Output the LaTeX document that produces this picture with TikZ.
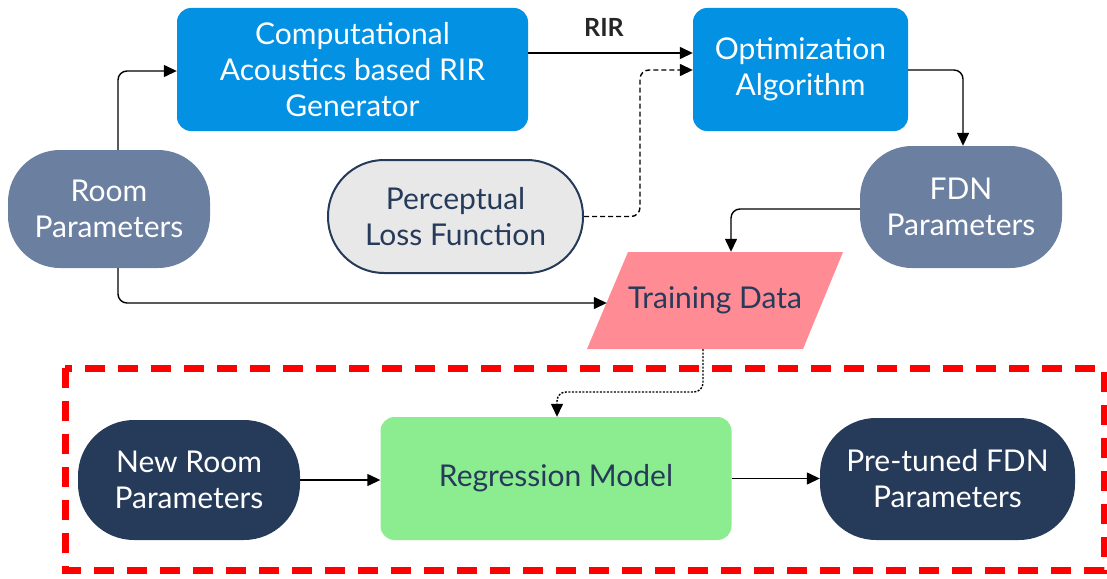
\documentclass[tikz,border=0pt]{standalone}
\usepackage{fontspec}
\setmainfont{Lato}
\usetikzlibrary{arrows.meta}
\definecolor{cblue}{RGB}{3,145,228}
\definecolor{cslate}{RGB}{107,127,161}
\definecolor{cgray}{RGB}{232,232,232}
\definecolor{cnavy}{RGB}{38,58,90}
\definecolor{cpink}{RGB}{255,139,148}
\definecolor{cgreen}{RGB}{140,236,144}
\definecolor{cred}{RGB}{255,0,0}
\begin{document}
\begin{tikzpicture}[x=1pt,y=-1pt,
  every node/.style={font=\fontsize{30}{36}\selectfont, align=center, inner sep=0pt},
  bluebox/.style={fill=cblue, text=white, rounded corners=14pt},
  slatepill/.style={fill=cslate, text=white, rounded corners=52pt},
  navypill/.style={fill=cnavy, text=white, rounded corners=56pt},
  conn/.style={draw=black, line width=1.4pt, rounded corners=9pt, -{Triangle[length=13pt,width=12pt]}},
  dashconn/.style={conn, dash pattern=on 5pt off 3pt},
  dotconn/.style={conn, dash pattern=on 2pt off 1.5pt}]
\useasboundingbox (0,0) rectangle (1107,578);
% top row
\node[bluebox, minimum width=351pt, minimum height=123pt] (comp) at (352.5,69.5) {Computational\\Acoustics based RIR\\Generator};
\node[bluebox, minimum width=215pt, minimum height=123pt] (opt) at (800.5,69.5) {Optimization\\Algorithm};
\node[font=\fontsize{25}{28}\selectfont\bfseries, text=black!85] (rir) at (604,27) {RIR};
% middle row
\node[slatepill, minimum width=202pt, minimum height=118pt] (room) at (109,209) {Room\\Parameters};
\node[fill=cgray, draw=cnavy, line width=2pt, rounded corners=56pt, minimum width=255pt, minimum height=113pt, text=cnavy] (loss) at (455.5,216.5) {Perceptual\\Loss Function};
\node[slatepill, minimum width=202pt, minimum height=122pt] (fdn) at (961,207) {FDN\\Parameters};
\fill[cpink] (628,252) -- (843,252) -- (803,349) -- (587,349) -- cycle;
\node[minimum width=216pt, minimum height=97pt, text=cnavy] (td) at (715,300.5) {Training Data};
% bottom frame
\draw[cred, line width=7pt, dash pattern=on 20pt off 13pt] (65,368) rectangle (1104,570);
\node[fill=cgreen, rounded corners=14pt, minimum width=351pt, minimum height=123pt, text=cnavy] (reg) at (556,478.5) {Regression Model};
\node[navypill, minimum width=222pt, minimum height=120pt] (newroom) at (189,480) {New Room\\Parameters};
\node[navypill, minimum width=255pt, minimum height=122pt] (pre) at (947.5,479) {Pre-tuned FDN\\Parameters};
% connectors
\coordinate (c1) at (118,71);
\draw[conn] (room.north -| c1) |- (comp.west |- c1);
\draw[conn] (comp.east |- 0,53) -- (opt.west |- 0,53);
\coordinate (c2) at (640,70);
\draw[dashconn] (loss.east) -| (c2) -- (opt.west |- c2);
\coordinate (c3) at (963,70);
\draw[conn] (opt.east |- c3) -| (fdn.north -| c3);
\coordinate (c4) at (731,209);
\draw[conn] (fdn.west |- c4) -| (td.north -| c4);
\coordinate (c5) at (118,303);
\draw[conn] (room.south -| c5) |- (td.west |- c5);
\coordinate (c6) at (703,392);
\coordinate (c7) at (557,392);
\draw[dotconn] (td.south -| c6) -- (c6) -- (c7) -- (reg.north -| c7);
\draw[conn] (newroom.east) -- (reg.west |- newroom.east);
\draw[conn] (reg.east) -- (pre.west |- reg.east);
\end{tikzpicture}
\end{document}
